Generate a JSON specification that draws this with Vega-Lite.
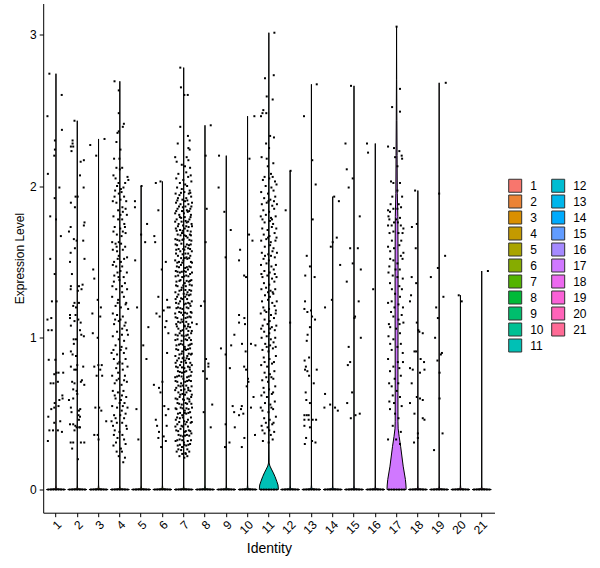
{
  "$schema": "https://vega.github.io/schema/vega-lite/v6.json",
  "width": 451.3,
  "height": 509.2,
  "autosize": {"type": "none"},
  "padding": {"left": 43.2, "top": 3.5, "right": 105.5, "bottom": 55.3},
  "background": "white",
  "config": {
    "view": {"stroke": null},
    "font": "Liberation Sans",
    "axis": {"grid": false, "domainColor": "black", "domainWidth": 1, "tickColor": "black", "tickWidth": 1, "tickSize": 4, "labelColor": "black", "labelFontSize": 12, "titleColor": "black", "titleFontWeight": "normal"}
  },
  "datasets": {
    "vio": [
      {"g":1,"h":"L","o":1,"v":2.74,"s":-0.001},{"g":1,"h":"L","o":2,"v":0.03,"s":-0.004},{"g":1,"h":"L","o":3,"v":0.006,"s":-0.02},{"g":1,"h":"L","o":4,"v":0,"s":-0.45},{"g":1,"h":"R","o":5,"v":0,"s":0.45},{"g":1,"h":"R","o":6,"v":0.006,"s":0.02},{"g":1,"h":"R","o":7,"v":0.03,"s":0.004},{"g":1,"h":"R","o":8,"v":2.74,"s":0.001},
      {"g":2,"h":"L","o":1,"v":2.43,"s":-0.001},{"g":2,"h":"L","o":2,"v":0.03,"s":-0.004},{"g":2,"h":"L","o":3,"v":0.006,"s":-0.02},{"g":2,"h":"L","o":4,"v":0,"s":-0.45},{"g":2,"h":"R","o":5,"v":0,"s":0.45},{"g":2,"h":"R","o":6,"v":0.006,"s":0.02},{"g":2,"h":"R","o":7,"v":0.03,"s":0.004},{"g":2,"h":"R","o":8,"v":2.43,"s":0.001},
      {"g":3,"h":"L","o":1,"v":2.31,"s":-0.001},{"g":3,"h":"L","o":2,"v":0.03,"s":-0.004},{"g":3,"h":"L","o":3,"v":0.006,"s":-0.02},{"g":3,"h":"L","o":4,"v":0,"s":-0.45},{"g":3,"h":"R","o":5,"v":0,"s":0.45},{"g":3,"h":"R","o":6,"v":0.006,"s":0.02},{"g":3,"h":"R","o":7,"v":0.03,"s":0.004},{"g":3,"h":"R","o":8,"v":2.31,"s":0.001},
      {"g":4,"h":"L","o":1,"v":2.69,"s":-0.001},{"g":4,"h":"L","o":2,"v":0.03,"s":-0.004},{"g":4,"h":"L","o":3,"v":0.006,"s":-0.02},{"g":4,"h":"L","o":4,"v":0,"s":-0.45},{"g":4,"h":"R","o":5,"v":0,"s":0.45},{"g":4,"h":"R","o":6,"v":0.006,"s":0.02},{"g":4,"h":"R","o":7,"v":0.03,"s":0.004},{"g":4,"h":"R","o":8,"v":2.69,"s":0.001},
      {"g":5,"h":"L","o":1,"v":2.0,"s":-0.001},{"g":5,"h":"L","o":2,"v":0.03,"s":-0.004},{"g":5,"h":"L","o":3,"v":0.006,"s":-0.02},{"g":5,"h":"L","o":4,"v":0,"s":-0.45},{"g":5,"h":"R","o":5,"v":0,"s":0.45},{"g":5,"h":"R","o":6,"v":0.006,"s":0.02},{"g":5,"h":"R","o":7,"v":0.03,"s":0.004},{"g":5,"h":"R","o":8,"v":2.0,"s":0.001},
      {"g":6,"h":"L","o":1,"v":2.03,"s":-0.001},{"g":6,"h":"L","o":2,"v":0.03,"s":-0.004},{"g":6,"h":"L","o":3,"v":0.006,"s":-0.02},{"g":6,"h":"L","o":4,"v":0,"s":-0.45},{"g":6,"h":"R","o":5,"v":0,"s":0.45},{"g":6,"h":"R","o":6,"v":0.006,"s":0.02},{"g":6,"h":"R","o":7,"v":0.03,"s":0.004},{"g":6,"h":"R","o":8,"v":2.03,"s":0.001},
      {"g":7,"h":"L","o":1,"v":2.78,"s":-0.001},{"g":7,"h":"L","o":2,"v":0.03,"s":-0.004},{"g":7,"h":"L","o":3,"v":0.006,"s":-0.02},{"g":7,"h":"L","o":4,"v":0,"s":-0.45},{"g":7,"h":"R","o":5,"v":0,"s":0.45},{"g":7,"h":"R","o":6,"v":0.006,"s":0.02},{"g":7,"h":"R","o":7,"v":0.03,"s":0.004},{"g":7,"h":"R","o":8,"v":2.78,"s":0.001},
      {"g":8,"h":"L","o":1,"v":2.4,"s":-0.001},{"g":8,"h":"L","o":2,"v":0.03,"s":-0.004},{"g":8,"h":"L","o":3,"v":0.006,"s":-0.02},{"g":8,"h":"L","o":4,"v":0,"s":-0.45},{"g":8,"h":"R","o":5,"v":0,"s":0.45},{"g":8,"h":"R","o":6,"v":0.006,"s":0.02},{"g":8,"h":"R","o":7,"v":0.03,"s":0.004},{"g":8,"h":"R","o":8,"v":2.4,"s":0.001},
      {"g":9,"h":"L","o":1,"v":2.2,"s":-0.001},{"g":9,"h":"L","o":2,"v":0.03,"s":-0.004},{"g":9,"h":"L","o":3,"v":0.006,"s":-0.02},{"g":9,"h":"L","o":4,"v":0,"s":-0.45},{"g":9,"h":"R","o":5,"v":0,"s":0.45},{"g":9,"h":"R","o":6,"v":0.006,"s":0.02},{"g":9,"h":"R","o":7,"v":0.03,"s":0.004},{"g":9,"h":"R","o":8,"v":2.2,"s":0.001},
      {"g":10,"h":"L","o":1,"v":2.46,"s":-0.001},{"g":10,"h":"L","o":2,"v":0.03,"s":-0.004},{"g":10,"h":"L","o":3,"v":0.006,"s":-0.02},{"g":10,"h":"L","o":4,"v":0,"s":-0.45},{"g":10,"h":"R","o":5,"v":0,"s":0.45},{"g":10,"h":"R","o":6,"v":0.006,"s":0.02},{"g":10,"h":"R","o":7,"v":0.03,"s":0.004},{"g":10,"h":"R","o":8,"v":2.46,"s":0.001},
      {"g":11,"h":"L","o":1,"v":3.01,"s":0},{"g":11,"h":"L","o":2,"v":2.5,"s":-0.005},{"g":11,"h":"L","o":3,"v":2.0,"s":-0.009},{"g":11,"h":"L","o":4,"v":1.0,"s":-0.01},{"g":11,"h":"L","o":5,"v":0.3,"s":-0.008},{"g":11,"h":"L","o":6,"v":0.175,"s":-0.015},{"g":11,"h":"L","o":7,"v":0.155,"s":-0.05},{"g":11,"h":"L","o":8,"v":0.135,"s":-0.12},{"g":11,"h":"L","o":9,"v":0.11,"s":-0.21},{"g":11,"h":"L","o":10,"v":0.085,"s":-0.29},{"g":11,"h":"L","o":11,"v":0.055,"s":-0.37},{"g":11,"h":"L","o":12,"v":0.03,"s":-0.43},{"g":11,"h":"L","o":13,"v":0,"s":-0.45},
      {"g":11,"h":"R","o":14,"v":0,"s":0.45},{"g":11,"h":"R","o":15,"v":0.03,"s":0.43},{"g":11,"h":"R","o":16,"v":0.055,"s":0.37},{"g":11,"h":"R","o":17,"v":0.085,"s":0.29},{"g":11,"h":"R","o":18,"v":0.11,"s":0.21},{"g":11,"h":"R","o":19,"v":0.135,"s":0.12},{"g":11,"h":"R","o":20,"v":0.155,"s":0.05},{"g":11,"h":"R","o":21,"v":0.175,"s":0.015},{"g":11,"h":"R","o":22,"v":0.3,"s":0.008},{"g":11,"h":"R","o":23,"v":1.0,"s":0.01},{"g":11,"h":"R","o":24,"v":2.0,"s":0.009},{"g":11,"h":"R","o":25,"v":2.5,"s":0.005},{"g":11,"h":"R","o":26,"v":3.01,"s":0},
      {"g":12,"h":"L","o":1,"v":2.1,"s":-0.001},{"g":12,"h":"L","o":2,"v":0.03,"s":-0.004},{"g":12,"h":"L","o":3,"v":0.006,"s":-0.02},{"g":12,"h":"L","o":4,"v":0,"s":-0.45},{"g":12,"h":"R","o":5,"v":0,"s":0.45},{"g":12,"h":"R","o":6,"v":0.006,"s":0.02},{"g":12,"h":"R","o":7,"v":0.03,"s":0.004},{"g":12,"h":"R","o":8,"v":2.1,"s":0.001},
      {"g":13,"h":"L","o":1,"v":2.67,"s":-0.001},{"g":13,"h":"L","o":2,"v":0.03,"s":-0.004},{"g":13,"h":"L","o":3,"v":0.006,"s":-0.02},{"g":13,"h":"L","o":4,"v":0,"s":-0.45},{"g":13,"h":"R","o":5,"v":0,"s":0.45},{"g":13,"h":"R","o":6,"v":0.006,"s":0.02},{"g":13,"h":"R","o":7,"v":0.03,"s":0.004},{"g":13,"h":"R","o":8,"v":2.67,"s":0.001},
      {"g":14,"h":"L","o":1,"v":1.93,"s":-0.001},{"g":14,"h":"L","o":2,"v":0.03,"s":-0.004},{"g":14,"h":"L","o":3,"v":0.006,"s":-0.02},{"g":14,"h":"L","o":4,"v":0,"s":-0.45},{"g":14,"h":"R","o":5,"v":0,"s":0.45},{"g":14,"h":"R","o":6,"v":0.006,"s":0.02},{"g":14,"h":"R","o":7,"v":0.03,"s":0.004},{"g":14,"h":"R","o":8,"v":1.93,"s":0.001},
      {"g":15,"h":"L","o":1,"v":2.66,"s":-0.001},{"g":15,"h":"L","o":2,"v":0.03,"s":-0.004},{"g":15,"h":"L","o":3,"v":0.006,"s":-0.02},{"g":15,"h":"L","o":4,"v":0,"s":-0.45},{"g":15,"h":"R","o":5,"v":0,"s":0.45},{"g":15,"h":"R","o":6,"v":0.006,"s":0.02},{"g":15,"h":"R","o":7,"v":0.03,"s":0.004},{"g":15,"h":"R","o":8,"v":2.66,"s":0.001},
      {"g":16,"h":"L","o":1,"v":2.28,"s":-0.001},{"g":16,"h":"L","o":2,"v":0.03,"s":-0.004},{"g":16,"h":"L","o":3,"v":0.006,"s":-0.02},{"g":16,"h":"L","o":4,"v":0,"s":-0.45},{"g":16,"h":"R","o":5,"v":0,"s":0.45},{"g":16,"h":"R","o":6,"v":0.006,"s":0.02},{"g":16,"h":"R","o":7,"v":0.03,"s":0.004},{"g":16,"h":"R","o":8,"v":2.28,"s":0.001},
      {"g":17,"h":"L","o":1,"v":3.05,"s":0},{"g":17,"h":"L","o":2,"v":2.7,"s":-0.006},{"g":17,"h":"L","o":3,"v":2.43,"s":-0.015},{"g":17,"h":"L","o":4,"v":2.2,"s":-0.025},{"g":17,"h":"L","o":5,"v":1.95,"s":-0.035},{"g":17,"h":"L","o":6,"v":1.8,"s":-0.06},{"g":17,"h":"L","o":7,"v":1.5,"s":-0.07},{"g":17,"h":"L","o":8,"v":1.2,"s":-0.07},{"g":17,"h":"L","o":9,"v":0.8,"s":-0.065},{"g":17,"h":"L","o":10,"v":0.45,"s":-0.065},{"g":17,"h":"L","o":11,"v":0.4,"s":-0.075},{"g":17,"h":"L","o":12,"v":0.35,"s":-0.12},{"g":17,"h":"L","o":13,"v":0.285,"s":-0.19},{"g":17,"h":"L","o":14,"v":0.154,"s":-0.31},{"g":17,"h":"L","o":15,"v":0.066,"s":-0.415},{"g":17,"h":"L","o":16,"v":0.03,"s":-0.44},{"g":17,"h":"L","o":17,"v":0,"s":-0.45},
      {"g":17,"h":"R","o":18,"v":0,"s":0.45},{"g":17,"h":"R","o":19,"v":0.03,"s":0.44},{"g":17,"h":"R","o":20,"v":0.066,"s":0.415},{"g":17,"h":"R","o":21,"v":0.154,"s":0.31},{"g":17,"h":"R","o":22,"v":0.285,"s":0.19},{"g":17,"h":"R","o":23,"v":0.35,"s":0.12},{"g":17,"h":"R","o":24,"v":0.4,"s":0.075},{"g":17,"h":"R","o":25,"v":0.45,"s":0.065},{"g":17,"h":"R","o":26,"v":0.8,"s":0.065},{"g":17,"h":"R","o":27,"v":1.2,"s":0.07},{"g":17,"h":"R","o":28,"v":1.5,"s":0.07},{"g":17,"h":"R","o":29,"v":1.8,"s":0.06},{"g":17,"h":"R","o":30,"v":1.95,"s":0.035},{"g":17,"h":"R","o":31,"v":2.2,"s":0.025},{"g":17,"h":"R","o":32,"v":2.43,"s":0.015},{"g":17,"h":"R","o":33,"v":2.7,"s":0.006},{"g":17,"h":"R","o":34,"v":3.05,"s":0},
      {"g":18,"h":"L","o":1,"v":1.97,"s":-0.001},{"g":18,"h":"L","o":2,"v":0.03,"s":-0.004},{"g":18,"h":"L","o":3,"v":0.006,"s":-0.02},{"g":18,"h":"L","o":4,"v":0,"s":-0.45},{"g":18,"h":"R","o":5,"v":0,"s":0.45},{"g":18,"h":"R","o":6,"v":0.006,"s":0.02},{"g":18,"h":"R","o":7,"v":0.03,"s":0.004},{"g":18,"h":"R","o":8,"v":1.97,"s":0.001},
      {"g":19,"h":"L","o":1,"v":2.68,"s":-0.001},{"g":19,"h":"L","o":2,"v":0.03,"s":-0.004},{"g":19,"h":"L","o":3,"v":0.006,"s":-0.02},{"g":19,"h":"L","o":4,"v":0,"s":-0.45},{"g":19,"h":"R","o":5,"v":0,"s":0.45},{"g":19,"h":"R","o":6,"v":0.006,"s":0.02},{"g":19,"h":"R","o":7,"v":0.03,"s":0.004},{"g":19,"h":"R","o":8,"v":2.68,"s":0.001},
      {"g":20,"h":"L","o":1,"v":1.28,"s":-0.001},{"g":20,"h":"L","o":2,"v":0.03,"s":-0.004},{"g":20,"h":"L","o":3,"v":0.006,"s":-0.02},{"g":20,"h":"L","o":4,"v":0,"s":-0.45},{"g":20,"h":"R","o":5,"v":0,"s":0.45},{"g":20,"h":"R","o":6,"v":0.006,"s":0.02},{"g":20,"h":"R","o":7,"v":0.03,"s":0.004},{"g":20,"h":"R","o":8,"v":1.28,"s":0.001},
      {"g":21,"h":"L","o":1,"v":1.44,"s":-0.001},{"g":21,"h":"L","o":2,"v":0.03,"s":-0.004},{"g":21,"h":"L","o":3,"v":0.006,"s":-0.02},{"g":21,"h":"L","o":4,"v":0,"s":-0.45},{"g":21,"h":"R","o":5,"v":0,"s":0.45},{"g":21,"h":"R","o":6,"v":0.006,"s":0.02},{"g":21,"h":"R","o":7,"v":0.03,"s":0.004},{"g":21,"h":"R","o":8,"v":1.44,"s":0.001}
    ],
    "pts": [
      {"g":1,"j":-0.31,"v":2.74},{"g":1,"j":0.27,"v":2.6},{"g":1,"j":-0.4,"v":2.46},{"g":1,"j":0.28,"v":2.37},{"g":1,"j":-0.05,"v":2.3},{"g":1,"j":-0.05,"v":2.24},{"g":1,"j":-0.08,"v":2.2},{"g":1,"j":-0.38,"v":2.08},{"g":1,"j":0.16,"v":1.99},{"g":1,"j":-0.06,"v":1.92},{"g":1,"j":-0.27,"v":1.8},{"g":1,"j":0,"v":1.78},{"g":1,"j":0.23,"v":1.67},{"g":1,"j":-0.27,"v":1.52},{"g":1,"j":-0.06,"v":1.42},{"g":1,"j":-0.19,"v":1.24},{"g":1,"j":0.03,"v":1.24},{"g":1,"j":-0.4,"v":1.12},{"g":1,"j":-0.22,"v":1.13},{"g":1,"j":-0.36,"v":1.05},{"g":1,"j":-0.2,"v":1.05},{"g":1,"j":-0.34,"v":0.855},{"g":1,"j":-0.03,"v":0.855},{"g":1,"j":0.33,"v":0.895},{"g":1,"j":-0.08,"v":0.76},{"g":1,"j":0.02,"v":0.77},{"g":1,"j":0.12,"v":0.77},{"g":1,"j":0.34,"v":0.77},{"g":1,"j":-0.25,"v":0.7},{"g":1,"j":-0.12,"v":0.7},{"g":1,"j":0.09,"v":0.71},{"g":1,"j":0.3,"v":0.62},{"g":1,"j":-0.06,"v":0.57},{"g":1,"j":0.16,"v":0.59},{"g":1,"j":0.31,"v":0.6},{"g":1,"j":-0.22,"v":0.53},{"g":1,"j":-0.08,"v":0.54},{"g":1,"j":0.12,"v":0.55},{"g":1,"j":-0.36,"v":0.48},{"g":1,"j":-0.08,"v":0.44},{"g":1,"j":0.2,"v":0.45},{"g":1,"j":-0.31,"v":0.39},{"g":1,"j":-0.14,"v":0.39},{"g":1,"j":0.09,"v":0.39},{"g":1,"j":0.28,"v":0.38},{"g":1,"j":-0.38,"v":0.32},
      {"g":2,"j":-0.13,"v":2.43},{"g":2,"j":-0.22,"v":2.3},{"g":2,"j":-0.22,"v":2.28},{"g":2,"j":-0.3,"v":2.26},{"g":2,"j":-0.19,"v":2.26},{"g":2,"j":-0.27,"v":2.23},{"g":2,"j":0.31,"v":2.17},{"g":2,"j":0.16,"v":2.16},{"g":2,"j":0.13,"v":2.07},{"g":2,"j":0.3,"v":1.99},{"g":2,"j":-0.08,"v":1.93},{"g":2,"j":0.02,"v":1.93},{"g":2,"j":-0.3,"v":1.89},{"g":2,"j":-0.11,"v":1.86},{"g":2,"j":0.34,"v":1.76},{"g":2,"j":0.31,"v":1.74},{"g":2,"j":-0.31,"v":1.73},{"g":2,"j":-0.39,"v":1.7},{"g":2,"j":-0.16,"v":1.65},{"g":2,"j":-0.03,"v":1.64},{"g":2,"j":0.28,"v":1.64},{"g":2,"j":-0.11,"v":1.59},{"g":2,"j":-0.31,"v":1.56},{"g":2,"j":0.34,"v":1.52},{"g":2,"j":-0.34,"v":1.5},{"g":2,"j":-0.25,"v":1.42},{"g":2,"j":0.25,"v":1.35},{"g":2,"j":0.08,"v":1.34},{"g":2,"j":-0.3,"v":1.34},{"g":2,"j":-0.31,"v":1.32},{"g":2,"j":0.03,"v":1.31},{"g":2,"j":0.2,"v":1.32},{"g":2,"j":-0.13,"v":1.23},{"g":2,"j":0.08,"v":1.23},{"g":2,"j":-0.19,"v":1.21},{"g":2,"j":-0.06,"v":1.2},{"g":2,"j":-0.34,"v":1.15},{"g":2,"j":-0.08,"v":1.15},{"g":2,"j":-0.34,"v":1.13},{"g":2,"j":0.05,"v":1.12},{"g":2,"j":-0.13,"v":1.11},{"g":2,"j":0.16,"v":1.1},{"g":2,"j":-0.3,"v":1.08},{"g":2,"j":0.13,"v":1.05},{"g":2,"j":0.19,"v":1.02},{"g":2,"j":-0.17,"v":0.99},{"g":2,"j":-0.06,"v":0.99},{"g":2,"j":0.31,"v":1.01},{"g":2,"j":-0.16,"v":0.96},{"g":2,"j":-0.3,"v":0.91},{"g":2,"j":-0.22,"v":0.89},{"g":2,"j":-0.06,"v":0.88},{"g":2,"j":0,"v":0.82},{"g":2,"j":-0.3,"v":0.81},{"g":2,"j":0.28,"v":0.81},{"g":2,"j":-0.14,"v":0.79},{"g":2,"j":-0.06,"v":0.79},{"g":2,"j":-0.24,"v":0.71},{"g":2,"j":0.17,"v":0.71},{"g":2,"j":0.22,"v":0.72},{"g":2,"j":-0.13,"v":0.7},{"g":2,"j":0.33,"v":0.69},{"g":2,"j":-0.19,"v":0.66},{"g":2,"j":-0.03,"v":0.65},{"g":2,"j":0,"v":0.63},{"g":2,"j":-0.39,"v":0.59},{"g":2,"j":-0.19,"v":0.6},{"g":2,"j":0.14,"v":0.53},{"g":2,"j":0.08,"v":0.52},{"g":2,"j":-0.3,"v":0.54},{"g":2,"j":-0.27,"v":0.51},{"g":2,"j":0.06,"v":0.49},{"g":2,"j":0.08,"v":0.46},{"g":2,"j":0.13,"v":0.48},{"g":2,"j":-0.34,"v":0.43},{"g":2,"j":-0.19,"v":0.43},{"g":2,"j":-0.09,"v":0.42},{"g":2,"j":-0.03,"v":0.41},{"g":2,"j":0.13,"v":0.41},{"g":2,"j":-0.13,"v":0.39},{"g":2,"j":0.09,"v":0.41},{"g":2,"j":-0.31,"v":0.31},{"g":2,"j":-0.19,"v":0.31},{"g":2,"j":-0.24,"v":0.27},{"g":2,"j":0.17,"v":0.31},{"g":2,"j":0.33,"v":0.31},{"g":2,"j":0.03,"v":0.2},
      {"g":3,"j":0.28,"v":2.31},{"g":3,"j":-0.39,"v":2.27},{"g":3,"j":-0.11,"v":2.2},{"g":3,"j":-0.25,"v":1.45},{"g":3,"j":-0.2,"v":1.39},{"g":3,"j":-0.04,"v":1.25},{"g":3,"j":0.11,"v":1.2},{"g":3,"j":-0.29,"v":1.16},{"g":3,"j":0.08,"v":1.14},{"g":3,"j":-0.27,"v":1.03},{"g":3,"j":-0.04,"v":1.0},{"g":3,"j":-0.2,"v":0.81},{"g":3,"j":-0.01,"v":0.82},{"g":3,"j":0.15,"v":0.82},{"g":3,"j":0.08,"v":0.79},{"g":3,"j":-0.09,"v":0.75},{"g":3,"j":0.17,"v":0.75},{"g":3,"j":-0.15,"v":0.54},{"g":3,"j":0.03,"v":0.54},{"g":3,"j":0.13,"v":0.52},{"g":3,"j":0.36,"v":0.45},{"g":3,"j":-0.2,"v":0.36},{"g":3,"j":-0.04,"v":0.36},{"g":3,"j":0,"v":0.33},
      {"g":4,"j":-0.25,"v":2.69},{"g":4,"j":-0.05,"v":2.63},{"g":4,"j":-0.05,"v":2.48},{"g":4,"j":0.19,"v":2.41},{"g":4,"j":0.14,"v":2.39},{"g":4,"j":-0.05,"v":2.36},{"g":4,"j":-0.11,"v":2.35},{"g":4,"j":-0.16,"v":2.29},{"g":4,"j":0.03,"v":2.24},{"g":4,"j":-0.27,"v":2.18},{"g":4,"j":-0.02,"v":2.18},{"g":4,"j":-0.16,"v":2.12},{"g":4,"j":0,"v":2.11},{"g":4,"j":0.11,"v":2.12},{"g":4,"j":0.36,"v":2.06},{"g":4,"j":0.4,"v":2.04},{"g":4,"j":-0.3,"v":2.07},{"g":4,"j":-0.2,"v":2.05},{"g":4,"j":-0.13,"v":2.0},{"g":4,"j":0.05,"v":1.98},{"g":4,"j":0.17,"v":1.99},{"g":4,"j":-0.22,"v":1.97},{"g":4,"j":-0.05,"v":1.95},{"g":4,"j":0.08,"v":1.96},{"g":4,"j":-0.33,"v":1.9},{"g":4,"j":-0.16,"v":1.89},{"g":4,"j":0.03,"v":1.91},{"g":4,"j":0.3,"v":1.9},{"g":4,"j":0.12,"v":1.86},{"g":4,"j":-0.08,"v":1.84},{"g":4,"j":0.14,"v":1.83},{"g":4,"j":0.27,"v":1.85},{"g":4,"j":-0.3,"v":1.8},{"g":4,"j":-0.08,"v":1.78},{"g":4,"j":0.11,"v":1.78},{"g":4,"j":0.21,"v":1.75},{"g":4,"j":-0.24,"v":1.73},{"g":4,"j":0.02,"v":1.72},{"g":4,"j":0.24,"v":1.73},{"g":4,"j":-0.14,"v":1.68},{"g":4,"j":0.08,"v":1.67},{"g":4,"j":0.27,"v":1.69},{"g":4,"j":-0.36,"v":1.63},{"g":4,"j":-0.2,"v":1.62},{"g":4,"j":-0.05,"v":1.63},{"g":4,"j":0.06,"v":1.62},{"g":4,"j":-0.33,"v":1.58},{"g":4,"j":-0.13,"v":1.57},{"g":4,"j":0.14,"v":1.58},{"g":4,"j":-0.05,"v":1.54},{"g":4,"j":-0.1,"v":1.52},{"g":4,"j":0.2,"v":1.52},{"g":4,"j":0.34,"v":1.53},{"g":4,"j":-0.33,"v":1.48},{"g":4,"j":-0.17,"v":1.47},{"g":4,"j":0.11,"v":1.47},{"g":4,"j":-0.11,"v":1.43},{"g":4,"j":0.03,"v":1.44},{"g":4,"j":0.33,"v":1.43},{"g":4,"j":-0.26,"v":1.41},{"g":4,"j":-0.28,"v":1.37},{"g":4,"j":-0.02,"v":1.38},{"g":4,"j":0.24,"v":1.36},{"g":4,"j":-0.17,"v":1.32},{"g":4,"j":0.11,"v":1.3},{"g":4,"j":0.34,"v":1.32},{"g":4,"j":-0.36,"v":1.27},{"g":4,"j":-0.08,"v":1.25},{"g":4,"j":0.19,"v":1.27},{"g":4,"j":-0.2,"v":1.21},{"g":4,"j":0.05,"v":1.2},{"g":4,"j":0.27,"v":1.22},{"g":4,"j":0.39,"v":1.19},{"g":4,"j":-0.33,"v":1.16},{"g":4,"j":-0.13,"v":1.15},{"g":4,"j":0.14,"v":1.14},{"g":4,"j":-0.05,"v":1.11},{"g":4,"j":0.27,"v":1.1},{"g":4,"j":-0.27,"v":1.09},{"g":4,"j":0.22,"v":1.08},{"g":4,"j":0.11,"v":1.06},{"g":4,"j":0.33,"v":1.05},{"g":4,"j":-0.13,"v":1.04},{"g":4,"j":-0.33,"v":1.01},{"g":4,"j":-0.05,"v":0.99},{"g":4,"j":0.2,"v":0.98},{"g":4,"j":-0.2,"v":0.95},{"g":4,"j":0.08,"v":0.94},{"g":4,"j":0.3,"v":0.93},{"g":4,"j":-0.39,"v":0.9},{"g":4,"j":-0.13,"v":0.89},{"g":4,"j":0.19,"v":0.9},{"g":4,"j":-0.28,"v":0.86},{"g":4,"j":-0.02,"v":0.84},{"g":4,"j":0.27,"v":0.86},{"g":4,"j":-0.17,"v":0.8},{"g":4,"j":0.14,"v":0.79},{"g":4,"j":0.36,"v":0.81},{"g":4,"j":-0.08,"v":0.77},{"g":4,"j":-0.36,"v":0.75},{"g":4,"j":-0.05,"v":0.73},{"g":4,"j":0.24,"v":0.75},{"g":4,"j":-0.24,"v":0.7},{"g":4,"j":0.08,"v":0.69},{"g":4,"j":0.33,"v":0.71},{"g":4,"j":-0.33,"v":0.65},{"g":4,"j":-0.09,"v":0.64},{"g":4,"j":0.17,"v":0.65},{"g":4,"j":-0.2,"v":0.6},{"g":4,"j":0.05,"v":0.59},{"g":4,"j":0.3,"v":0.61},{"g":4,"j":-0.36,"v":0.55},{"g":4,"j":-0.13,"v":0.54},{"g":4,"j":0.14,"v":0.55},{"g":4,"j":0.36,"v":0.54},{"g":4,"j":0.09,"v":0.52},{"g":4,"j":-0.27,"v":0.49},{"g":4,"j":0.02,"v":0.49},{"g":4,"j":0.27,"v":0.5},{"g":4,"j":-0.39,"v":0.45},{"g":4,"j":-0.14,"v":0.44},{"g":4,"j":0.11,"v":0.44},{"g":4,"j":-0.24,"v":0.39},{"g":4,"j":-0.02,"v":0.38},{"g":4,"j":0.33,"v":0.4},{"g":4,"j":-0.11,"v":0.34},{"g":4,"j":0.2,"v":0.33},{"g":4,"j":-0.18,"v":0.31},{"g":4,"j":-0.3,"v":0.29},{"g":4,"j":0.05,"v":0.27},{"g":4,"j":0.27,"v":0.3},{"g":4,"j":-0.05,"v":0.22},{"g":4,"j":0.24,"v":0.21},{"g":4,"j":0.16,"v":0.18},
      {"g":4,"j":-0.06,"v":2.02},{"g":4,"j":0.25,"v":2.02},{"g":4,"j":-0.25,"v":1.93},{"g":4,"j":0.2,"v":1.93},{"g":4,"j":0.03,"v":1.81},{"g":4,"j":0.33,"v":1.81},{"g":4,"j":-0.3,"v":1.7},{"g":4,"j":0.14,"v":1.7},{"g":4,"j":0.25,"v":1.6},{"g":4,"j":-0.15,"v":1.6},{"g":4,"j":-0.27,"v":1.5},{"g":4,"j":0.05,"v":1.5},{"g":4,"j":0.18,"v":1.4},{"g":4,"j":-0.06,"v":1.4},{"g":4,"j":-0.35,"v":1.34},{"g":4,"j":0.1,"v":1.34},{"g":4,"j":-0.1,"v":1.23},{"g":4,"j":0.3,"v":1.23},{"g":4,"j":0.03,"v":1.12},{"g":4,"j":-0.22,"v":1.12},{"g":4,"j":0.1,"v":1.02},{"g":4,"j":0.38,"v":1.02},{"g":4,"j":-0.3,"v":0.92},{"g":4,"j":0.04,"v":0.92},{"g":4,"j":0.12,"v":0.83},{"g":4,"j":-0.1,"v":0.83},{"g":4,"j":-0.15,"v":0.72},{"g":4,"j":0.2,"v":0.72},{"g":4,"j":-0.24,"v":0.62},{"g":4,"j":0.1,"v":0.62},{"g":4,"j":0.22,"v":0.57},{"g":4,"j":-0.01,"v":0.57},{"g":4,"j":-0.2,"v":0.47},{"g":4,"j":0.2,"v":0.47},{"g":4,"j":0.3,"v":0.42},{"g":4,"j":-0.32,"v":0.42},{"g":4,"j":0.12,"v":0.36},{"g":4,"j":-0.28,"v":0.36},{"g":4,"j":-0.15,"v":0.25},{"g":4,"j":0.1,"v":0.25},
      {"g":5,"j":-0.29,"v":1.9},{"g":5,"j":-0.29,"v":1.86},{"g":5,"j":0,"v":1.68},{"g":5,"j":0.28,"v":1.75},{"g":5,"j":0.19,"v":1.63},{"g":5,"j":-0.28,"v":1.51},{"g":5,"j":-0.19,"v":1.2},{"g":5,"j":0.34,"v":1.07},{"g":5,"j":0.25,"v":0.86},{"g":5,"j":-0.22,"v":0.53},{"g":5,"j":-0.13,"v":0.33},{"g":5,"j":0.02,"v":2.0},{"g":5,"j":0.1,"v":0.95},
      {"g":6,"j":-0.31,"v":2.02},{"g":6,"j":-0.09,"v":2.03},{"g":6,"j":-0.19,"v":1.84},{"g":6,"j":-0.38,"v":1.67},{"g":6,"j":-0.34,"v":1.63},{"g":6,"j":0.16,"v":1.5},{"g":6,"j":-0.03,"v":1.45},{"g":6,"j":-0.19,"v":1.27},{"g":6,"j":0.22,"v":1.25},{"g":6,"j":0.06,"v":1.18},{"g":6,"j":-0.28,"v":1.16},{"g":6,"j":-0.13,"v":1.14},{"g":6,"j":0.28,"v":1.03},{"g":6,"j":0.13,"v":1.07},{"g":6,"j":0.19,"v":1.11},{"g":6,"j":0.34,"v":1.2},{"g":6,"j":0.25,"v":1.2},{"g":6,"j":0.22,"v":0.9},{"g":6,"j":-0.4,"v":0.69},{"g":6,"j":-0.16,"v":0.67},{"g":6,"j":0,"v":0.71},{"g":6,"j":-0.09,"v":0.64},{"g":6,"j":0.09,"v":0.55},{"g":6,"j":0.28,"v":0.53},{"g":6,"j":0.16,"v":0.49},{"g":6,"j":-0.31,"v":0.46},{"g":6,"j":-0.25,"v":0.42},{"g":6,"j":-0.16,"v":0.38},{"g":6,"j":0.2,"v":0.42},{"g":6,"j":0.06,"v":0.35},{"g":6,"j":-0.19,"v":0.34},{"g":6,"j":0.16,"v":0.32},{"g":6,"j":-0.06,"v":0.28},
      {"g":7,"j":-0.16,"v":2.78},{"g":7,"j":-0.13,"v":2.65},{"g":7,"j":0.03,"v":2.6},{"g":7,"j":0.19,"v":2.6},{"g":7,"j":-0.16,"v":2.39},{"g":7,"j":0.2,"v":2.33},{"g":7,"j":0.28,"v":2.3},{"g":7,"j":-0.28,"v":2.28},{"g":7,"j":0.22,"v":2.25},{"g":7,"j":0.28,"v":2.24},{"g":7,"j":-0.4,"v":2.19},{"g":7,"j":0.14,"v":2.19},{"g":7,"j":-0.33,"v":2.16},{"g":7,"j":-0.09,"v":2.14},{"g":7,"j":0.06,"v":2.13},{"g":7,"j":0.22,"v":2.17},{"g":7,"j":0.3,"v":2.12},
      {"g":7,"j":-0.25,"v":2.08},{"g":7,"j":0.12,"v":2.09},{"g":7,"j":0.33,"v":2.07},{"g":7,"j":-0.35,"v":2.05},{"g":7,"j":-0.02,"v":2.04},{"g":7,"j":0.21,"v":2.06},{"g":7,"j":-0.18,"v":2.02},{"g":7,"j":0.07,"v":2.01},{"g":7,"j":0.36,"v":2.03},{"g":7,"j":-0.31,"v":1.99},{"g":7,"j":-0.09,"v":1.98},{"g":7,"j":0.16,"v":2.0},{"g":7,"j":0.28,"v":1.97},{"g":7,"j":-0.38,"v":1.95},{"g":7,"j":-0.2,"v":1.94},{"g":7,"j":0.03,"v":1.96},{"g":7,"j":0.24,"v":1.95},{"g":7,"j":-0.27,"v":1.92},{"g":7,"j":-0.06,"v":1.91},{"g":7,"j":0.12,"v":1.92},{"g":7,"j":0.35,"v":1.93},{"g":7,"j":-0.36,"v":1.89},{"g":7,"j":-0.15,"v":1.88},{"g":7,"j":0.06,"v":1.9},{"g":7,"j":0.22,"v":1.88},{"g":7,"j":0.39,"v":1.89},{"g":7,"j":-0.29,"v":1.85},{"g":7,"j":-0.04,"v":1.86},{"g":7,"j":0.15,"v":1.84},{"g":7,"j":0.31,"v":1.85},{"g":7,"j":-0.4,"v":1.82},{"g":7,"j":-0.21,"v":1.81},{"g":7,"j":0.01,"v":1.82},{"g":7,"j":0.19,"v":1.83},{"g":7,"j":0.34,"v":1.81},{"g":7,"j":-0.33,"v":1.78},{"g":7,"j":-0.12,"v":1.79},{"g":7,"j":0.09,"v":1.77},{"g":7,"j":0.27,"v":1.78},{"g":7,"j":-0.24,"v":1.75},{"g":7,"j":-0.03,"v":1.74},{"g":7,"j":0.14,"v":1.76},{"g":7,"j":0.37,"v":1.75},{"g":7,"j":-0.37,"v":1.72},{"g":7,"j":-0.17,"v":1.71},{"g":7,"j":0.05,"v":1.72},{"g":7,"j":0.23,"v":1.73},{"g":7,"j":0.33,"v":1.7},{"g":7,"j":-0.28,"v":1.68},{"g":7,"j":-0.08,"v":1.69},{"g":7,"j":0.11,"v":1.67},{"g":7,"j":0.29,"v":1.68},{"g":7,"j":-0.39,"v":1.65},{"g":7,"j":-0.2,"v":1.64},{"g":7,"j":-0.01,"v":1.65},{"g":7,"j":0.18,"v":1.66},{"g":7,"j":0.36,"v":1.64},{"g":7,"j":-0.31,"v":1.61},{"g":7,"j":-0.11,"v":1.62},{"g":7,"j":0.08,"v":1.6},{"g":7,"j":0.25,"v":1.61},{"g":7,"j":-0.35,"v":1.58},{"g":7,"j":-0.16,"v":1.57},{"g":7,"j":0.03,"v":1.58},{"g":7,"j":0.21,"v":1.59},{"g":7,"j":0.38,"v":1.57},{"g":7,"j":-0.27,"v":1.54},{"g":7,"j":-0.05,"v":1.55},{"g":7,"j":0.13,"v":1.53},{"g":7,"j":0.31,"v":1.54},{"g":7,"j":-0.4,"v":1.51},{"g":7,"j":-0.22,"v":1.5},{"g":7,"j":-0.02,"v":1.51},{"g":7,"j":0.17,"v":1.52},{"g":7,"j":0.34,"v":1.5},{"g":7,"j":-0.32,"v":1.47},{"g":7,"j":-0.13,"v":1.48},{"g":7,"j":0.07,"v":1.46},{"g":7,"j":0.26,"v":1.47},{"g":7,"j":-0.37,"v":1.44},{"g":7,"j":-0.18,"v":1.43},{"g":7,"j":0.01,"v":1.44},{"g":7,"j":0.2,"v":1.45},{"g":7,"j":0.39,"v":1.43},{"g":7,"j":-0.26,"v":1.41},{"g":7,"j":-0.07,"v":1.4},{"g":7,"j":0.12,"v":1.41},{"g":7,"j":0.3,"v":1.42},{"g":7,"j":-0.34,"v":1.37},{"g":7,"j":-0.15,"v":1.38},{"g":7,"j":0.05,"v":1.36},{"g":7,"j":0.24,"v":1.37},{"g":7,"j":0.36,"v":1.38},{"g":7,"j":-0.29,"v":1.34},{"g":7,"j":-0.09,"v":1.33},{"g":7,"j":0.1,"v":1.34},{"g":7,"j":0.28,"v":1.35},{"g":7,"j":-0.39,"v":1.3},{"g":7,"j":-0.2,"v":1.31},{"g":7,"j":0,"v":1.29},{"g":7,"j":0.18,"v":1.3},{"g":7,"j":0.35,"v":1.31},{"g":7,"j":-0.31,"v":1.27},{"g":7,"j":-0.12,"v":1.26},{"g":7,"j":0.07,"v":1.27},{"g":7,"j":0.25,"v":1.28},{"g":7,"j":-0.36,"v":1.23},{"g":7,"j":-0.17,"v":1.24},{"g":7,"j":0.02,"v":1.22},{"g":7,"j":0.21,"v":1.23},{"g":7,"j":0.38,"v":1.24},{"g":7,"j":-0.27,"v":1.2},{"g":7,"j":-0.06,"v":1.19},{"g":7,"j":0.14,"v":1.2},{"g":7,"j":0.32,"v":1.21},{"g":7,"j":-0.4,"v":1.16},{"g":7,"j":-0.21,"v":1.17},{"g":7,"j":-0.03,"v":1.15},{"g":7,"j":0.16,"v":1.16},{"g":7,"j":0.33,"v":1.17},{"g":7,"j":-0.3,"v":1.13},{"g":7,"j":-0.1,"v":1.12},{"g":7,"j":0.09,"v":1.13},{"g":7,"j":0.27,"v":1.14},{"g":7,"j":-0.35,"v":1.09},{"g":7,"j":-0.16,"v":1.1},{"g":7,"j":0.04,"v":1.08},{"g":7,"j":0.22,"v":1.09},{"g":7,"j":0.39,"v":1.1},{"g":7,"j":-0.25,"v":1.06},{"g":7,"j":-0.05,"v":1.05},{"g":7,"j":0.13,"v":1.06},{"g":7,"j":0.3,"v":1.07},{"g":7,"j":-0.38,"v":1.02},{"g":7,"j":-0.19,"v":1.03},{"g":7,"j":0,"v":1.01},{"g":7,"j":0.19,"v":1.02},{"g":7,"j":0.35,"v":1.03},{"g":7,"j":-0.29,"v":0.99},{"g":7,"j":-0.1,"v":0.98},{"g":7,"j":0.08,"v":0.99},{"g":7,"j":0.26,"v":1.0},{"g":7,"j":-0.34,"v":0.95},{"g":7,"j":-0.14,"v":0.96},{"g":7,"j":0.05,"v":0.94},{"g":7,"j":0.23,"v":0.95},{"g":7,"j":0.37,"v":0.96},{"g":7,"j":-0.26,"v":0.92},{"g":7,"j":-0.07,"v":0.91},{"g":7,"j":0.11,"v":0.92},{"g":7,"j":0.3,"v":0.93},{"g":7,"j":-0.39,"v":0.88},{"g":7,"j":-0.2,"v":0.89},{"g":7,"j":-0.01,"v":0.87},{"g":7,"j":0.17,"v":0.88},{"g":7,"j":0.34,"v":0.89},{"g":7,"j":-0.31,"v":0.85},{"g":7,"j":-0.11,"v":0.84},{"g":7,"j":0.07,"v":0.85},{"g":7,"j":0.25,"v":0.86},{"g":7,"j":-0.36,"v":0.81},{"g":7,"j":-0.17,"v":0.82},{"g":7,"j":0.03,"v":0.8},{"g":7,"j":0.2,"v":0.81},{"g":7,"j":0.38,"v":0.82},{"g":7,"j":-0.27,"v":0.78},{"g":7,"j":-0.08,"v":0.77},{"g":7,"j":0.12,"v":0.78},{"g":7,"j":0.29,"v":0.79},{"g":7,"j":-0.4,"v":0.74},{"g":7,"j":-0.22,"v":0.75},{"g":7,"j":-0.02,"v":0.73},{"g":7,"j":0.16,"v":0.74},{"g":7,"j":0.33,"v":0.75},{"g":7,"j":-0.3,"v":0.71},{"g":7,"j":-0.12,"v":0.7},{"g":7,"j":0.07,"v":0.71},{"g":7,"j":0.25,"v":0.72},{"g":7,"j":-0.35,"v":0.67},{"g":7,"j":-0.15,"v":0.68},{"g":7,"j":0.04,"v":0.66},{"g":7,"j":0.21,"v":0.67},{"g":7,"j":0.37,"v":0.68},{"g":7,"j":-0.25,"v":0.64},{"g":7,"j":-0.06,"v":0.63},{"g":7,"j":0.13,"v":0.64},{"g":7,"j":0.31,"v":0.65},{"g":7,"j":-0.38,"v":0.6},{"g":7,"j":-0.19,"v":0.61},{"g":7,"j":0.01,"v":0.59},{"g":7,"j":0.18,"v":0.6},{"g":7,"j":0.35,"v":0.61},{"g":7,"j":-0.29,"v":0.57},{"g":7,"j":-0.09,"v":0.56},{"g":7,"j":0.09,"v":0.57},{"g":7,"j":0.27,"v":0.58},{"g":7,"j":-0.34,"v":0.53},{"g":7,"j":-0.14,"v":0.54},{"g":7,"j":0.05,"v":0.52},{"g":7,"j":0.23,"v":0.53},{"g":7,"j":0.39,"v":0.54},{"g":7,"j":-0.27,"v":0.5},{"g":7,"j":-0.07,"v":0.49},{"g":7,"j":0.12,"v":0.5},{"g":7,"j":0.3,"v":0.51},{"g":7,"j":-0.37,"v":0.46},{"g":7,"j":-0.18,"v":0.47},{"g":7,"j":0.02,"v":0.45},{"g":7,"j":0.2,"v":0.46},{"g":7,"j":-0.3,"v":0.43},{"g":7,"j":-0.1,"v":0.42},{"g":7,"j":0.08,"v":0.43},{"g":7,"j":0.33,"v":0.44},{"g":7,"j":-0.35,"v":0.39},{"g":7,"j":-0.15,"v":0.4},{"g":7,"j":0.05,"v":0.38},{"g":7,"j":0.24,"v":0.39},{"g":7,"j":-0.24,"v":0.36},{"g":7,"j":-0.03,"v":0.35},{"g":7,"j":0.15,"v":0.36},{"g":7,"j":0.36,"v":0.37},{"g":7,"j":-0.38,"v":0.32},{"g":7,"j":-0.19,"v":0.33},{"g":7,"j":0.01,"v":0.31},{"g":7,"j":0.19,"v":0.32},{"g":7,"j":-0.28,"v":0.29},{"g":7,"j":-0.08,"v":0.28},{"g":7,"j":0.12,"v":0.29},{"g":7,"j":0.3,"v":0.3},{"g":7,"j":-0.33,"v":0.25},{"g":7,"j":-0.12,"v":0.26},{"g":7,"j":0.08,"v":0.24},{"g":7,"j":0.26,"v":0.25},{"g":7,"j":-0.2,"v":0.22},{"g":7,"j":0.03,"v":0.21},{"g":7,"j":0.17,"v":0.22},
      {"g":7,"j":-0.13,"v":1.955},{"g":7,"j":0.31,"v":1.955},{"g":7,"j":-0.3,"v":1.905},{"g":7,"j":0.17,"v":1.905},{"g":7,"j":-0.22,"v":1.865},{"g":7,"j":0.08,"v":1.865},{"g":7,"j":0.36,"v":1.865},{"g":7,"j":-0.35,"v":1.835},{"g":7,"j":-0.08,"v":1.835},{"g":7,"j":0.26,"v":1.835},{"g":7,"j":-0.18,"v":1.795},{"g":7,"j":0.05,"v":1.795},{"g":7,"j":0.32,"v":1.795},{"g":7,"j":-0.4,"v":1.765},{"g":7,"j":-0.1,"v":1.765},{"g":7,"j":0.21,"v":1.765},{"g":7,"j":-0.27,"v":1.735},{"g":7,"j":0.12,"v":1.735},{"g":7,"j":0.39,"v":1.735},{"g":7,"j":-0.33,"v":1.705},{"g":7,"j":-0.05,"v":1.705},{"g":7,"j":0.18,"v":1.705},{"g":7,"j":-0.15,"v":1.675},{"g":7,"j":0.04,"v":1.675},{"g":7,"j":0.34,"v":1.675},{"g":7,"j":-0.3,"v":1.645},{"g":7,"j":-0.06,"v":1.645},{"g":7,"j":0.27,"v":1.645},{"g":7,"j":-0.38,"v":1.615},{"g":7,"j":0.15,"v":1.615},{"g":7,"j":0.33,"v":1.615},{"g":7,"j":-0.24,"v":1.585},{"g":7,"j":-0.02,"v":1.585},{"g":7,"j":0.3,"v":1.585},{"g":7,"j":-0.36,"v":1.555},{"g":7,"j":0.08,"v":1.555},{"g":7,"j":0.21,"v":1.555},{"g":7,"j":-0.12,"v":1.525},{"g":7,"j":0.05,"v":1.525},{"g":7,"j":0.26,"v":1.525},{"g":7,"j":-0.3,"v":1.495},{"g":7,"j":-0.07,"v":1.495},{"g":7,"j":0.39,"v":1.495},{"g":7,"j":-0.22,"v":1.465},{"g":7,"j":0.15,"v":1.465},{"g":7,"j":0.33,"v":1.465},{"g":7,"j":-0.29,"v":1.435},{"g":7,"j":-0.09,"v":1.435},{"g":7,"j":0.1,"v":1.435},{"g":7,"j":-0.38,"v":1.405},{"g":7,"j":0.02,"v":1.405},{"g":7,"j":0.22,"v":1.405},{"g":7,"j":-0.2,"v":1.375},{"g":7,"j":0.14,"v":1.375},{"g":7,"j":0.3,"v":1.375},{"g":7,"j":-0.36,"v":1.345},{"g":7,"j":-0.02,"v":1.345},{"g":7,"j":0.38,"v":1.345},{"g":7,"j":-0.11,"v":1.315},{"g":7,"j":0.08,"v":1.315},{"g":7,"j":0.27,"v":1.315},{"g":7,"j":-0.25,"v":1.285},{"g":7,"j":0.14,"v":1.285},{"g":7,"j":0.32,"v":1.285},{"g":7,"j":-0.38,"v":1.255},{"g":7,"j":-0.05,"v":1.255},{"g":7,"j":0.16,"v":1.255},{"g":7,"j":-0.24,"v":1.225},{"g":7,"j":0.1,"v":1.225},{"g":7,"j":0.28,"v":1.225},{"g":7,"j":-0.34,"v":1.195},{"g":7,"j":-0.16,"v":1.195},{"g":7,"j":0.22,"v":1.195},{"g":7,"j":-0.12,"v":1.165},{"g":7,"j":0.06,"v":1.165},{"g":7,"j":0.37,"v":1.165},{"g":7,"j":-0.38,"v":1.135},{"g":7,"j":0.18,"v":1.135},{"g":7,"j":0.33,"v":1.135},{"g":7,"j":-0.26,"v":1.105},{"g":7,"j":-0.06,"v":1.105},{"g":7,"j":0.12,"v":1.105},{"g":7,"j":-0.32,"v":1.075},{"g":7,"j":0.05,"v":1.075},{"g":7,"j":0.2,"v":1.075},{"g":7,"j":-0.14,"v":1.045},{"g":7,"j":0.22,"v":1.045},{"g":7,"j":0.38,"v":1.045},{"g":7,"j":-0.28,"v":1.015},{"g":7,"j":-0.09,"v":1.015},{"g":7,"j":0.12,"v":1.015},{"g":7,"j":-0.39,"v":0.985},{"g":7,"j":0.16,"v":0.985},{"g":7,"j":0.34,"v":0.985},{"g":7,"j":-0.22,"v":0.955},{"g":7,"j":-0.04,"v":0.955},{"g":7,"j":0.3,"v":0.955},{"g":7,"j":-0.35,"v":0.925},{"g":7,"j":0.06,"v":0.925},{"g":7,"j":0.2,"v":0.925},{"g":7,"j":-0.1,"v":0.895},{"g":7,"j":0.24,"v":0.895},{"g":7,"j":0.38,"v":0.895},{"g":7,"j":-0.23,"v":0.865},{"g":7,"j":-0.05,"v":0.865},{"g":7,"j":0.14,"v":0.865},{"g":7,"j":-0.38,"v":0.835},{"g":7,"j":0.11,"v":0.835},{"g":7,"j":0.31,"v":0.835},{"g":7,"j":-0.28,"v":0.805},{"g":7,"j":-0.08,"v":0.805},{"g":7,"j":0.28,"v":0.805},{"g":7,"j":-0.18,"v":0.775},{"g":7,"j":0.04,"v":0.775},{"g":7,"j":0.37,"v":0.775},{"g":7,"j":-0.31,"v":0.745},{"g":7,"j":-0.1,"v":0.745},{"g":7,"j":0.24,"v":0.745},{"g":7,"j":-0.38,"v":0.715},{"g":7,"j":0.16,"v":0.715},{"g":7,"j":0.34,"v":0.715},{"g":7,"j":-0.25,"v":0.685},{"g":7,"j":-0.05,"v":0.685},{"g":7,"j":0.12,"v":0.685},{"g":7,"j":-0.4,"v":0.655},{"g":7,"j":-0.12,"v":0.655},{"g":7,"j":0.22,"v":0.655},{"g":7,"j":-0.16,"v":0.625},{"g":7,"j":0.06,"v":0.625},{"g":7,"j":0.38,"v":0.625},{"g":7,"j":-0.3,"v":0.595},{"g":7,"j":-0.03,"v":0.595},{"g":7,"j":0.26,"v":0.595},{"g":7,"j":-0.21,"v":0.565},{"g":7,"j":0.16,"v":0.565},{"g":7,"j":0.36,"v":0.565},{"g":7,"j":-0.38,"v":0.535},{"g":7,"j":-0.05,"v":0.535},{"g":7,"j":0.13,"v":0.535},{"g":7,"j":-0.17,"v":0.505},{"g":7,"j":0.05,"v":0.505},{"g":7,"j":0.22,"v":0.505},{"g":7,"j":-0.31,"v":0.475},{"g":7,"j":-0.04,"v":0.475},{"g":7,"j":0.34,"v":0.475},{"g":7,"j":-0.21,"v":0.445},{"g":7,"j":0.14,"v":0.445},{"g":7,"j":0.38,"v":0.445},{"g":7,"j":-0.39,"v":0.415},{"g":7,"j":-0.04,"v":0.415},{"g":7,"j":0.2,"v":0.415},{"g":7,"j":-0.26,"v":0.385},{"g":7,"j":0.1,"v":0.385},{"g":7,"j":0.31,"v":0.385},{"g":7,"j":-0.14,"v":0.355},{"g":7,"j":0.06,"v":0.355},{"g":7,"j":0.26,"v":0.355},{"g":7,"j":-0.3,"v":0.325},{"g":7,"j":-0.07,"v":0.325},{"g":7,"j":0.34,"v":0.325},{"g":7,"j":-0.18,"v":0.295},{"g":7,"j":0.03,"v":0.295},{"g":7,"j":0.22,"v":0.295},{"g":7,"j":-0.25,"v":0.265},{"g":7,"j":0.17,"v":0.265},{"g":7,"j":-0.07,"v":0.235},{"g":7,"j":0.1,"v":0.235},
      {"g":8,"j":0.27,"v":2.4},{"g":8,"j":0.03,"v":2.2},{"g":8,"j":0.08,"v":1.85},{"g":8,"j":0.03,"v":1.63},{"g":8,"j":-0.19,"v":1.21},{"g":8,"j":-0.39,"v":1.09},{"g":8,"j":-0.03,"v":1.24},{"g":8,"j":0.05,"v":0.86},{"g":8,"j":0.16,"v":0.83},{"g":8,"j":-0.09,"v":0.78},{"g":8,"j":0.16,"v":0.81},{"g":8,"j":0.09,"v":0.73},{"g":8,"j":0.34,"v":0.56},{"g":8,"j":-0.06,"v":0.51},{"g":8,"j":0.27,"v":0.41},
      {"g":9,"j":-0.34,"v":2.2},{"g":9,"j":-0.36,"v":1.99},{"g":9,"j":-0.09,"v":1.83},{"g":9,"j":0.21,"v":1.71},{"g":9,"j":-0.03,"v":1.53},{"g":9,"j":-0.25,"v":0.93},{"g":9,"j":-0.03,"v":0.89},{"g":9,"j":0.17,"v":0.8},{"g":9,"j":0.3,"v":0.55},{"g":9,"j":0.37,"v":0.51},{"g":9,"j":-0.03,"v":0.43},{"g":9,"j":0.15,"v":0.31},{"g":9,"j":-0.06,"v":0.28},{"g":9,"j":0.38,"v":1.02},{"g":9,"j":0.23,"v":0.95},{"g":9,"j":0.4,"v":0.41},
      {"g":10,"j":0.32,"v":2.46},{"g":10,"j":0.09,"v":2.18},{"g":10,"j":0.07,"v":1.68},{"g":10,"j":0.23,"v":1.64},{"g":10,"j":-0.35,"v":1.58},{"g":10,"j":-0.4,"v":1.51},{"g":10,"j":-0.16,"v":1.41},{"g":10,"j":-0.07,"v":1.4},{"g":10,"j":-0.4,"v":1.15},{"g":10,"j":-0.15,"v":1.13},{"g":10,"j":-0.4,"v":1.1},{"g":10,"j":-0.12,"v":1.09},{"g":10,"j":-0.26,"v":0.96},{"g":10,"j":0.16,"v":0.96},{"g":10,"j":0.37,"v":0.95},{"g":10,"j":-0.09,"v":0.91},{"g":10,"j":-0.16,"v":0.81},{"g":10,"j":-0.07,"v":0.79},{"g":10,"j":0.02,"v":0.73},{"g":10,"j":0.04,"v":0.71},{"g":10,"j":-0.04,"v":0.68},{"g":10,"j":0.28,"v":0.61},{"g":10,"j":-0.27,"v":0.55},{"g":10,"j":-0.31,"v":0.53},{"g":10,"j":-0.2,"v":0.5},{"g":10,"j":0.16,"v":0.54},{"g":10,"j":-0.4,"v":0.49},{"g":10,"j":0.35,"v":0.36},{"g":10,"j":-0.15,"v":0.34},{"g":10,"j":-0.27,"v":0.28},
      {"g":11,"j":0.26,"v":3.01},{"g":11,"j":0.23,"v":2.73},{"g":11,"j":-0.18,"v":2.71},{"g":11,"j":-0.1,"v":2.59},{"g":11,"j":0.18,"v":2.57},{"g":11,"j":-0.26,"v":2.5},{"g":11,"j":-0.37,"v":2.46},{"g":11,"j":-0.3,"v":2.48},{"g":11,"j":-0.12,"v":2.48},{"g":11,"j":0.06,"v":2.33},{"g":11,"j":0.24,"v":2.32},{"g":11,"j":-0.13,"v":2.28},{"g":11,"j":0.01,"v":2.25},{"g":11,"j":-0.34,"v":2.19},{"g":11,"j":-0.1,"v":2.18},{"g":11,"j":0.21,"v":2.15},{"g":11,"j":-0.05,"v":2.13},{"g":11,"j":0.1,"v":2.08},
      {"g":11,"j":-0.28,"v":2.04},{"g":11,"j":0.02,"v":2.05},{"g":11,"j":0.29,"v":2.03},{"g":11,"j":-0.15,"v":2.0},{"g":11,"j":0.12,"v":1.99},{"g":11,"j":0.36,"v":2.01},{"g":11,"j":-0.36,"v":1.96},{"g":11,"j":-0.04,"v":1.95},{"g":11,"j":0.22,"v":1.97},{"g":11,"j":-0.22,"v":1.92},{"g":11,"j":0.07,"v":1.91},{"g":11,"j":0.3,"v":1.93},{"g":11,"j":-0.33,"v":1.88},{"g":11,"j":-0.1,"v":1.89},{"g":11,"j":0.16,"v":1.87},{"g":11,"j":0.38,"v":1.88},{"g":11,"j":-0.26,"v":1.84},{"g":11,"j":0.01,"v":1.83},{"g":11,"j":0.25,"v":1.85},{"g":11,"j":-0.38,"v":1.8},{"g":11,"j":-0.14,"v":1.81},{"g":11,"j":0.1,"v":1.79},{"g":11,"j":0.32,"v":1.8},{"g":11,"j":-0.2,"v":1.76},{"g":11,"j":0.05,"v":1.77},{"g":11,"j":0.2,"v":1.75},{"g":11,"j":-0.31,"v":1.72},{"g":11,"j":-0.06,"v":1.71},{"g":11,"j":0.14,"v":1.73},{"g":11,"j":0.35,"v":1.72},{"g":11,"j":-0.24,"v":1.68},{"g":11,"j":0.03,"v":1.67},{"g":11,"j":0.27,"v":1.69},{"g":11,"j":-0.36,"v":1.64},{"g":11,"j":-0.12,"v":1.65},{"g":11,"j":0.09,"v":1.63},{"g":11,"j":0.31,"v":1.64},{"g":11,"j":-0.19,"v":1.6},{"g":11,"j":0.06,"v":1.61},{"g":11,"j":0.22,"v":1.59},{"g":11,"j":-0.33,"v":1.56},{"g":11,"j":-0.03,"v":1.55},{"g":11,"j":0.17,"v":1.57},{"g":11,"j":0.38,"v":1.56},{"g":11,"j":-0.25,"v":1.52},{"g":11,"j":0,"v":1.51},{"g":11,"j":0.28,"v":1.53},{"g":11,"j":-0.37,"v":1.48},{"g":11,"j":-0.11,"v":1.49},{"g":11,"j":0.12,"v":1.47},{"g":11,"j":0.33,"v":1.48},{"g":11,"j":-0.21,"v":1.44},{"g":11,"j":0.04,"v":1.43},{"g":11,"j":0.23,"v":1.45},{"g":11,"j":-0.3,"v":1.4},{"g":11,"j":-0.07,"v":1.41},{"g":11,"j":0.15,"v":1.39},{"g":11,"j":0.36,"v":1.4},{"g":11,"j":-0.23,"v":1.36},{"g":11,"j":0.02,"v":1.35},{"g":11,"j":0.26,"v":1.37},{"g":11,"j":-0.35,"v":1.32},{"g":11,"j":-0.13,"v":1.33},{"g":11,"j":0.08,"v":1.31},{"g":11,"j":0.3,"v":1.32},{"g":11,"j":-0.18,"v":1.28},{"g":11,"j":0.05,"v":1.27},{"g":11,"j":0.21,"v":1.29},{"g":11,"j":-0.32,"v":1.24},{"g":11,"j":-0.04,"v":1.25},{"g":11,"j":0.16,"v":1.23},{"g":11,"j":0.37,"v":1.24},{"g":11,"j":-0.26,"v":1.2},{"g":11,"j":0.01,"v":1.19},{"g":11,"j":0.27,"v":1.21},{"g":11,"j":-0.38,"v":1.16},{"g":11,"j":-0.12,"v":1.17},{"g":11,"j":0.1,"v":1.15},{"g":11,"j":0.32,"v":1.16},{"g":11,"j":-0.2,"v":1.12},{"g":11,"j":0.04,"v":1.11},{"g":11,"j":0.24,"v":1.13},{"g":11,"j":-0.29,"v":1.08},{"g":11,"j":-0.06,"v":1.09},{"g":11,"j":0.14,"v":1.07},{"g":11,"j":0.35,"v":1.08},{"g":11,"j":-0.22,"v":1.04},{"g":11,"j":0.02,"v":1.03},{"g":11,"j":0.28,"v":1.05},{"g":11,"j":-0.34,"v":1.0},{"g":11,"j":-0.1,"v":1.01},{"g":11,"j":0.09,"v":0.99},{"g":11,"j":0.3,"v":1.0},{"g":11,"j":-0.17,"v":0.96},{"g":11,"j":0.06,"v":0.95},{"g":11,"j":0.22,"v":0.97},{"g":11,"j":-0.3,"v":0.92},{"g":11,"j":-0.02,"v":0.91},{"g":11,"j":0.19,"v":0.93},{"g":11,"j":-0.24,"v":0.87},{"g":11,"j":0.03,"v":0.86},{"g":11,"j":0.33,"v":0.88},{"g":11,"j":-0.36,"v":0.82},{"g":11,"j":-0.08,"v":0.81},{"g":11,"j":0.15,"v":0.83},{"g":11,"j":-0.2,"v":0.77},{"g":11,"j":0.05,"v":0.76},{"g":11,"j":0.26,"v":0.78},{"g":11,"j":-0.31,"v":0.72},{"g":11,"j":-0.04,"v":0.71},{"g":11,"j":0.21,"v":0.73},{"g":11,"j":-0.25,"v":0.67},{"g":11,"j":0.01,"v":0.66},{"g":11,"j":0.3,"v":0.68},{"g":11,"j":-0.35,"v":0.62},{"g":11,"j":-0.09,"v":0.61},{"g":11,"j":0.14,"v":0.63},{"g":11,"j":-0.18,"v":0.57},{"g":11,"j":0.07,"v":0.56},{"g":11,"j":0.28,"v":0.58},{"g":11,"j":-0.3,"v":0.52},{"g":11,"j":-0.02,"v":0.51},{"g":11,"j":0.2,"v":0.53},{"g":11,"j":-0.22,"v":0.47},{"g":11,"j":0.04,"v":0.46},{"g":11,"j":0.33,"v":0.48},{"g":11,"j":-0.34,"v":0.42},{"g":11,"j":-0.06,"v":0.41},{"g":11,"j":0.16,"v":0.43},{"g":11,"j":-0.2,"v":0.37},{"g":11,"j":0.09,"v":0.36},{"g":11,"j":0.25,"v":0.38},{"g":11,"j":-0.28,"v":0.32},{"g":11,"j":-0.01,"v":0.31},{"g":11,"j":0.18,"v":0.33},
      {"g":11,"j":-0.2,"v":2.06},{"g":11,"j":0.18,"v":2.06},{"g":11,"j":-0.02,"v":1.9},{"g":11,"j":0.24,"v":1.9},{"g":11,"j":-0.3,"v":1.78},{"g":11,"j":0.15,"v":1.78},{"g":11,"j":-0.04,"v":1.66},{"g":11,"j":0.36,"v":1.66},{"g":11,"j":-0.18,"v":1.54},{"g":11,"j":0.1,"v":1.54},{"g":11,"j":-0.35,"v":1.42},{"g":11,"j":0.28,"v":1.42},{"g":11,"j":-0.04,"v":1.3},{"g":11,"j":0.18,"v":1.3},{"g":11,"j":-0.2,"v":1.18},{"g":11,"j":0.33,"v":1.18},{"g":11,"j":0.06,"v":1.06},{"g":11,"j":-0.36,"v":1.06},{"g":11,"j":-0.1,"v":0.94},{"g":11,"j":0.32,"v":0.94},{"g":11,"j":-0.2,"v":0.84},{"g":11,"j":0.24,"v":0.84},{"g":11,"j":0.12,"v":0.74},{"g":11,"j":-0.12,"v":0.74},{"g":11,"j":-0.22,"v":0.64},{"g":11,"j":0.2,"v":0.64},{"g":11,"j":0.12,"v":0.54},{"g":11,"j":-0.38,"v":0.54},{"g":11,"j":0.22,"v":0.44},{"g":11,"j":-0.14,"v":0.44},{"g":11,"j":-0.3,"v":0.39},{"g":11,"j":0.02,"v":0.39},
      {"g":12,"j":0.02,"v":2.1},{"g":12,"j":-0.21,"v":1.84},{"g":12,"j":0,"v":1.1},
      {"g":13,"j":0.25,"v":2.67},{"g":13,"j":-0.35,"v":2.46},{"g":13,"j":0.04,"v":2.17},{"g":13,"j":0.2,"v":2.01},{"g":13,"j":0.06,"v":1.78},{"g":13,"j":-0.22,"v":1.54},{"g":13,"j":-0.07,"v":1.47},{"g":13,"j":-0.29,"v":1.41},{"g":13,"j":0.15,"v":1.4},{"g":13,"j":-0.3,"v":1.24},{"g":13,"j":-0.33,"v":1.19},{"g":13,"j":-0.19,"v":1.17},{"g":13,"j":-0.02,"v":1.18},{"g":13,"j":0.03,"v":1.14},{"g":13,"j":0.17,"v":1.12},{"g":13,"j":-0.07,"v":1.07},{"g":13,"j":-0.18,"v":1.02},{"g":13,"j":-0.22,"v":0.98},{"g":13,"j":-0.11,"v":0.87},{"g":13,"j":-0.32,"v":0.85},{"g":13,"j":-0.26,"v":0.81},{"g":13,"j":-0.3,"v":0.79},{"g":13,"j":-0.19,"v":0.78},{"g":13,"j":-0.11,"v":0.75},{"g":13,"j":0.25,"v":0.79},{"g":13,"j":0.11,"v":0.7},{"g":13,"j":-0.27,"v":0.64},{"g":13,"j":-0.24,"v":0.59},{"g":13,"j":-0.07,"v":0.57},{"g":13,"j":-0.33,"v":0.49},{"g":13,"j":-0.22,"v":0.49},{"g":13,"j":-0.13,"v":0.49},{"g":13,"j":-0.33,"v":0.46},{"g":13,"j":-0.13,"v":0.46},{"g":13,"j":0.06,"v":0.46},{"g":13,"j":0.22,"v":0.46},{"g":13,"j":-0.33,"v":0.42},{"g":13,"j":-0.07,"v":0.41},{"g":13,"j":-0.25,"v":0.34},{"g":13,"j":-0.31,"v":0.3},{"g":13,"j":0.03,"v":0.32},{"g":13,"j":0.19,"v":0.31},
      {"g":14,"j":0.07,"v":1.93},{"g":14,"j":0.29,"v":1.9},{"g":14,"j":0,"v":1.63},{"g":14,"j":-0.09,"v":1.6},{"g":14,"j":0.19,"v":1.66},{"g":14,"j":0.35,"v":1.48},{"g":14,"j":-0.36,"v":1.2},{"g":14,"j":-0.04,"v":1.25},{"g":14,"j":-0.36,"v":0.63},{"g":14,"j":-0.12,"v":0.56},{"g":14,"j":-0.39,"v":0.54},{"g":14,"j":0.11,"v":0.54},{"g":14,"j":0.24,"v":0.52},
      {"g":15,"j":-0.14,"v":2.66},{"g":15,"j":-0.4,"v":2.28},{"g":15,"j":-0.34,"v":2.11},{"g":15,"j":-0.06,"v":2.05},{"g":15,"j":-0.25,"v":1.99},{"g":15,"j":0.27,"v":1.8},{"g":15,"j":-0.18,"v":1.59},{"g":15,"j":0.18,"v":1.59},{"g":15,"j":-0.06,"v":1.49},{"g":15,"j":0.32,"v":1.45},{"g":15,"j":-0.34,"v":1.37},{"g":15,"j":0.22,"v":1.24},{"g":15,"j":0.05,"v":1.14},{"g":15,"j":0.02,"v":1.13},{"g":15,"j":0.32,"v":1.0},{"g":15,"j":-0.25,"v":0.94},{"g":15,"j":-0.29,"v":0.82},{"g":15,"j":-0.18,"v":0.84},{"g":15,"j":-0.09,"v":0.64},{"g":15,"j":-0.32,"v":0.57},{"g":15,"j":0.07,"v":0.49},{"g":15,"j":-0.15,"v":0.47},{"g":15,"j":0.27,"v":0.5},
      {"g":16,"j":-0.39,"v":2.28},{"g":16,"j":-0.34,"v":2.22},{"g":16,"j":-0.1,"v":1.32},
      {"g":17,"j":0,"v":3.05},{"g":17,"j":0.16,"v":2.64},{"g":17,"j":-0.21,"v":2.52},{"g":17,"j":0.16,"v":2.49},{"g":17,"j":-0.4,"v":2.26},{"g":17,"j":-0.12,"v":2.25},{"g":17,"j":0.13,"v":2.23},{"g":17,"j":0.24,"v":2.2},{"g":17,"j":0.26,"v":2.18},{"g":17,"j":-0.07,"v":2.19},{"g":17,"j":0.04,"v":2.13},{"g":17,"j":-0.26,"v":2.03},{"g":17,"j":-0.15,"v":2.02},{"g":17,"j":0.16,"v":2.02},{"g":17,"j":0.04,"v":1.97},{"g":17,"j":-0.2,"v":1.93},{"g":17,"j":0.26,"v":1.93},{"g":17,"j":-0.4,"v":1.84},{"g":17,"j":-0.31,"v":1.83},{"g":17,"j":-0.15,"v":1.85},{"g":17,"j":0.04,"v":1.85},{"g":17,"j":0.21,"v":1.86},{"g":17,"j":-0.38,"v":1.8},{"g":17,"j":-0.34,"v":1.78},{"g":17,"j":-0.02,"v":1.78},{"g":17,"j":0.16,"v":1.79},{"g":17,"j":-0.4,"v":1.74},{"g":17,"j":-0.23,"v":1.74},{"g":17,"j":0.2,"v":1.74},{"g":17,"j":0.32,"v":1.72},{"g":17,"j":-0.33,"v":1.69},{"g":17,"j":-0.15,"v":1.7},{"g":17,"j":0.09,"v":1.69},{"g":17,"j":0.28,"v":1.69},{"g":17,"j":-0.4,"v":1.6},{"g":17,"j":-0.3,"v":1.57},{"g":17,"j":-0.12,"v":1.59},{"g":17,"j":0.13,"v":1.61},{"g":17,"j":0.32,"v":1.56},{"g":17,"j":-0.15,"v":1.51},{"g":17,"j":0.04,"v":1.49},{"g":17,"j":0.2,"v":1.54},{"g":17,"j":-0.34,"v":1.47},{"g":17,"j":-0.38,"v":1.43},{"g":17,"j":-0.18,"v":1.41},{"g":17,"j":-0.31,"v":1.36},{"g":17,"j":0.04,"v":1.4},{"g":17,"j":0.13,"v":1.34},{"g":17,"j":0.29,"v":1.39},{"g":17,"j":-0.07,"v":1.29},{"g":17,"j":0.16,"v":1.27},{"g":17,"j":-0.23,"v":1.24},{"g":17,"j":-0.4,"v":1.23},{"g":17,"j":0.09,"v":1.22},{"g":17,"j":-0.26,"v":1.17},{"g":17,"j":-0.15,"v":1.14},{"g":17,"j":0.09,"v":1.12},{"g":17,"j":0.24,"v":1.15},{"g":17,"j":-0.3,"v":1.07},{"g":17,"j":-0.02,"v":1.06},{"g":17,"j":0.32,"v":1.1},{"g":17,"j":-0.38,"v":1.01},{"g":17,"j":-0.15,"v":0.99},{"g":17,"j":0.16,"v":1.03},{"g":17,"j":-0.23,"v":0.92},{"g":17,"j":0.04,"v":0.94},{"g":17,"j":0.29,"v":0.9},{"g":17,"j":-0.4,"v":0.86},{"g":17,"j":-0.15,"v":0.81},{"g":17,"j":-0.31,"v":0.78},{"g":17,"j":0.13,"v":0.8},{"g":17,"j":-0.09,"v":0.73},{"g":17,"j":0.2,"v":0.75},{"g":17,"j":-0.23,"v":0.68},{"g":17,"j":0.01,"v":0.65},{"g":17,"j":0.16,"v":0.61},{"g":17,"j":-0.34,"v":0.58},{"g":17,"j":-0.12,"v":0.57},{"g":17,"j":0.24,"v":0.55},{"g":17,"j":-0.31,"v":0.53},{"g":17,"j":-0.07,"v":0.5},{"g":17,"j":0.09,"v":0.47},{"g":17,"j":-0.18,"v":0.42},{"g":17,"j":0.2,"v":0.38},{"g":17,"j":-0.02,"v":0.33},{"g":17,"j":-0.4,"v":0.33},{"g":17,"j":0.16,"v":0.3},
      {"g":17,"j":0.1,"v":1.88},{"g":17,"j":-0.28,"v":1.88},{"g":17,"j":0.06,"v":1.76},{"g":17,"j":-0.12,"v":1.76},{"g":17,"j":-0.22,"v":1.64},{"g":17,"j":0.22,"v":1.64},{"g":17,"j":-0.3,"v":1.52},{"g":17,"j":0.28,"v":1.52},{"g":17,"j":0.15,"v":1.45},{"g":17,"j":-0.05,"v":1.45},{"g":17,"j":-0.22,"v":1.32},{"g":17,"j":0.25,"v":1.32},{"g":17,"j":-0.1,"v":1.2},{"g":17,"j":0.3,"v":1.2},{"g":17,"j":0.14,"v":1.09},{"g":17,"j":-0.36,"v":1.09},{"g":17,"j":-0.3,"v":0.96},{"g":17,"j":0.2,"v":0.96},{"g":17,"j":0.06,"v":0.84},{"g":17,"j":0.3,"v":0.84},{"g":17,"j":-0.35,"v":0.7},{"g":17,"j":0.08,"v":0.7},{"g":17,"j":-0.18,"v":0.62},
      {"g":18,"j":-0.13,"v":1.97},{"g":18,"j":-0.28,"v":1.73},{"g":18,"j":-0.05,"v":1.75},{"g":18,"j":-0.1,"v":1.59},{"g":18,"j":-0.29,"v":1.4},{"g":18,"j":-0.08,"v":1.36},{"g":18,"j":-0.37,"v":1.24},{"g":18,"j":-0.32,"v":1.28},{"g":18,"j":-0.05,"v":1.1},{"g":18,"j":0.02,"v":1.05},{"g":18,"j":0.07,"v":1.04},{"g":18,"j":0.23,"v":1.03},{"g":18,"j":-0.16,"v":0.91},{"g":18,"j":-0.08,"v":0.91},{"g":18,"j":0.13,"v":0.86},{"g":18,"j":0.29,"v":0.84},{"g":18,"j":0.1,"v":0.77},{"g":18,"j":-0.37,"v":0.8},{"g":18,"j":-0.24,"v":0.79},{"g":18,"j":0.31,"v":0.79},{"g":18,"j":-0.29,"v":0.7},{"g":18,"j":-0.05,"v":0.61},{"g":18,"j":0.1,"v":0.6},{"g":18,"j":0.23,"v":0.59},{"g":18,"j":-0.37,"v":0.57},{"g":18,"j":-0.16,"v":0.5},{"g":18,"j":0.23,"v":0.47},{"g":18,"j":0.31,"v":0.46},{"g":18,"j":0,"v":0.37},{"g":18,"j":0,"v":0.34},{"g":18,"j":-0.18,"v":0.31},
      {"g":19,"j":0.31,"v":2.68},{"g":19,"j":0,"v":1.95},{"g":19,"j":0.28,"v":1.54},{"g":19,"j":-0.06,"v":1.46},{"g":19,"j":-0.39,"v":1.4},{"g":19,"j":0.2,"v":1.27},{"g":19,"j":-0.14,"v":1.2},{"g":19,"j":-0.06,"v":1.13},{"g":19,"j":-0.19,"v":1.0},{"g":19,"j":0.13,"v":0.9},{"g":19,"j":0.08,"v":0.89},{"g":19,"j":-0.08,"v":0.85},{"g":19,"j":0.02,"v":0.77},{"g":19,"j":0.02,"v":0.6},{"g":19,"j":0.16,"v":0.37},{"g":19,"j":-0.24,"v":0.26},
      {"g":20,"j":-0.08,"v":1.28},{"g":20,"j":0.06,"v":1.24},
      {"g":21,"j":0.29,"v":1.44},
      {"g":1,"j":-0.36,"v":0},{"g":1,"j":-0.24,"v":0},{"g":1,"j":-0.12,"v":0},{"g":1,"j":0,"v":0},{"g":1,"j":0.12,"v":0},{"g":1,"j":0.24,"v":0},{"g":1,"j":0.36,"v":0},
      {"g":2,"j":-0.36,"v":0},{"g":2,"j":-0.24,"v":0},{"g":2,"j":-0.12,"v":0},{"g":2,"j":0,"v":0},{"g":2,"j":0.12,"v":0},{"g":2,"j":0.24,"v":0},{"g":2,"j":0.36,"v":0},
      {"g":3,"j":-0.36,"v":0},{"g":3,"j":-0.24,"v":0},{"g":3,"j":-0.12,"v":0},{"g":3,"j":0,"v":0},{"g":3,"j":0.12,"v":0},{"g":3,"j":0.24,"v":0},{"g":3,"j":0.36,"v":0},
      {"g":4,"j":-0.36,"v":0},{"g":4,"j":-0.24,"v":0},{"g":4,"j":-0.12,"v":0},{"g":4,"j":0,"v":0},{"g":4,"j":0.12,"v":0},{"g":4,"j":0.24,"v":0},{"g":4,"j":0.36,"v":0},
      {"g":5,"j":-0.36,"v":0},{"g":5,"j":-0.24,"v":0},{"g":5,"j":-0.12,"v":0},{"g":5,"j":0,"v":0},{"g":5,"j":0.12,"v":0},{"g":5,"j":0.24,"v":0},{"g":5,"j":0.36,"v":0},
      {"g":6,"j":-0.36,"v":0},{"g":6,"j":-0.24,"v":0},{"g":6,"j":-0.12,"v":0},{"g":6,"j":0,"v":0},{"g":6,"j":0.12,"v":0},{"g":6,"j":0.24,"v":0},{"g":6,"j":0.36,"v":0},
      {"g":7,"j":-0.36,"v":0},{"g":7,"j":-0.24,"v":0},{"g":7,"j":-0.12,"v":0},{"g":7,"j":0,"v":0},{"g":7,"j":0.12,"v":0},{"g":7,"j":0.24,"v":0},{"g":7,"j":0.36,"v":0},
      {"g":8,"j":-0.36,"v":0},{"g":8,"j":-0.24,"v":0},{"g":8,"j":-0.12,"v":0},{"g":8,"j":0,"v":0},{"g":8,"j":0.12,"v":0},{"g":8,"j":0.24,"v":0},{"g":8,"j":0.36,"v":0},
      {"g":9,"j":-0.36,"v":0},{"g":9,"j":-0.24,"v":0},{"g":9,"j":-0.12,"v":0},{"g":9,"j":0,"v":0},{"g":9,"j":0.12,"v":0},{"g":9,"j":0.24,"v":0},{"g":9,"j":0.36,"v":0},
      {"g":10,"j":-0.36,"v":0},{"g":10,"j":-0.24,"v":0},{"g":10,"j":-0.12,"v":0},{"g":10,"j":0,"v":0},{"g":10,"j":0.12,"v":0},{"g":10,"j":0.24,"v":0},{"g":10,"j":0.36,"v":0},
      {"g":11,"j":-0.36,"v":0},{"g":11,"j":-0.24,"v":0},{"g":11,"j":-0.12,"v":0},{"g":11,"j":0,"v":0},{"g":11,"j":0.12,"v":0},{"g":11,"j":0.24,"v":0},{"g":11,"j":0.36,"v":0},
      {"g":12,"j":-0.36,"v":0},{"g":12,"j":-0.24,"v":0},{"g":12,"j":-0.12,"v":0},{"g":12,"j":0,"v":0},{"g":12,"j":0.12,"v":0},{"g":12,"j":0.24,"v":0},{"g":12,"j":0.36,"v":0},
      {"g":13,"j":-0.36,"v":0},{"g":13,"j":-0.24,"v":0},{"g":13,"j":-0.12,"v":0},{"g":13,"j":0,"v":0},{"g":13,"j":0.12,"v":0},{"g":13,"j":0.24,"v":0},{"g":13,"j":0.36,"v":0},
      {"g":14,"j":-0.36,"v":0},{"g":14,"j":-0.24,"v":0},{"g":14,"j":-0.12,"v":0},{"g":14,"j":0,"v":0},{"g":14,"j":0.12,"v":0},{"g":14,"j":0.24,"v":0},{"g":14,"j":0.36,"v":0},
      {"g":15,"j":-0.36,"v":0},{"g":15,"j":-0.24,"v":0},{"g":15,"j":-0.12,"v":0},{"g":15,"j":0,"v":0},{"g":15,"j":0.12,"v":0},{"g":15,"j":0.24,"v":0},{"g":15,"j":0.36,"v":0},
      {"g":16,"j":-0.36,"v":0},{"g":16,"j":-0.24,"v":0},{"g":16,"j":-0.12,"v":0},{"g":16,"j":0,"v":0},{"g":16,"j":0.12,"v":0},{"g":16,"j":0.24,"v":0},{"g":16,"j":0.36,"v":0},
      {"g":17,"j":-0.36,"v":0},{"g":17,"j":-0.24,"v":0},{"g":17,"j":-0.12,"v":0},{"g":17,"j":0,"v":0},{"g":17,"j":0.12,"v":0},{"g":17,"j":0.24,"v":0},{"g":17,"j":0.36,"v":0},
      {"g":18,"j":-0.36,"v":0},{"g":18,"j":-0.24,"v":0},{"g":18,"j":-0.12,"v":0},{"g":18,"j":0,"v":0},{"g":18,"j":0.12,"v":0},{"g":18,"j":0.24,"v":0},{"g":18,"j":0.36,"v":0},
      {"g":19,"j":-0.36,"v":0},{"g":19,"j":-0.24,"v":0},{"g":19,"j":-0.12,"v":0},{"g":19,"j":0,"v":0},{"g":19,"j":0.12,"v":0},{"g":19,"j":0.24,"v":0},{"g":19,"j":0.36,"v":0},
      {"g":20,"j":-0.36,"v":0},{"g":20,"j":-0.24,"v":0},{"g":20,"j":-0.12,"v":0},{"g":20,"j":0,"v":0},{"g":20,"j":0.12,"v":0},{"g":20,"j":0.24,"v":0},{"g":20,"j":0.36,"v":0},
      {"g":21,"j":-0.36,"v":0},{"g":21,"j":-0.24,"v":0},{"g":21,"j":-0.12,"v":0},{"g":21,"j":0,"v":0},{"g":21,"j":0.12,"v":0},{"g":21,"j":0.24,"v":0},{"g":21,"j":0.36,"v":0}
    ]
  },
  "encoding": {
    "x": {
      "field": "g", "type": "ordinal", "title": "Identity",
      "scale": {"type": "band", "domain": [1,2,3,4,5,6,7,8,9,10,11,12,13,14,15,16,17,18,19,20,21], "paddingInner": 0, "paddingOuter": 0.1},
      "axis": {"labelAngle": -45, "labelAlign": "right", "labelBaseline": "top", "labelPadding": 2, "titleFontSize": 14, "titlePadding": 6}
    },
    "y": {
      "field": "v", "type": "quantitative", "title": "Expression Level",
      "scale": {"domain": [-0.1525, 3.2025], "nice": false, "zero": false},
      "axis": {"values": [0, 1, 2, 3], "labelPadding": 3, "titleFontSize": 12, "titlePadding": 3}
    }
  },
  "layer": [
    {
      "data": {"name": "vio"},
      "mark": {"type": "line", "stroke": "black", "strokeWidth": 1, "strokeJoin": "miter"},
      "encoding": {
        "xOffset": {"field": "s", "type": "quantitative", "scale": {"domain": [-0.5, 0.5]}},
        "detail": {"field": "g"},
        "order": {"field": "o"},
        "fill": {
          "field": "g", "type": "nominal",
          "scale": {"domain": [1,2,3,4,5,6,7,8,9,10,11,12,13,14,15,16,17,18,19,20,21], "range": ["#F8766D","#EB8335","#DA8F00","#C49A00","#A9A400","#86AC00","#53B400","#00BA38","#00BE6D","#00C094","#00C0B5","#00BDD2","#00B6EB","#00ABFD","#619CFF","#A58AFF","#D078FF","#EC69EF","#FB61D7","#FF63B9","#FF6B96"]},
          "legend": {"title": null, "orient": "none", "legendX": 465, "legendY": 175, "columns": 2, "symbolType": "square", "symbolSize": 169, "symbolStrokeColor": "#333333", "symbolStrokeWidth": 1, "symbolOpacity": 1, "symbolFillOpacity": 1, "labelFontSize": 12, "labelColor": "black", "labelOffset": 8, "rowPadding": -4.5, "columnPadding": 5, "padding": 0}
        }
      }
    },
    {
      "data": {"name": "pts"},
      "mark": {"type": "square", "size": 4, "color": "black", "opacity": 1},
      "encoding": {
        "xOffset": {"field": "j", "type": "quantitative", "scale": {"domain": [-0.5, 0.5]}}
      }
    }
  ]
}
